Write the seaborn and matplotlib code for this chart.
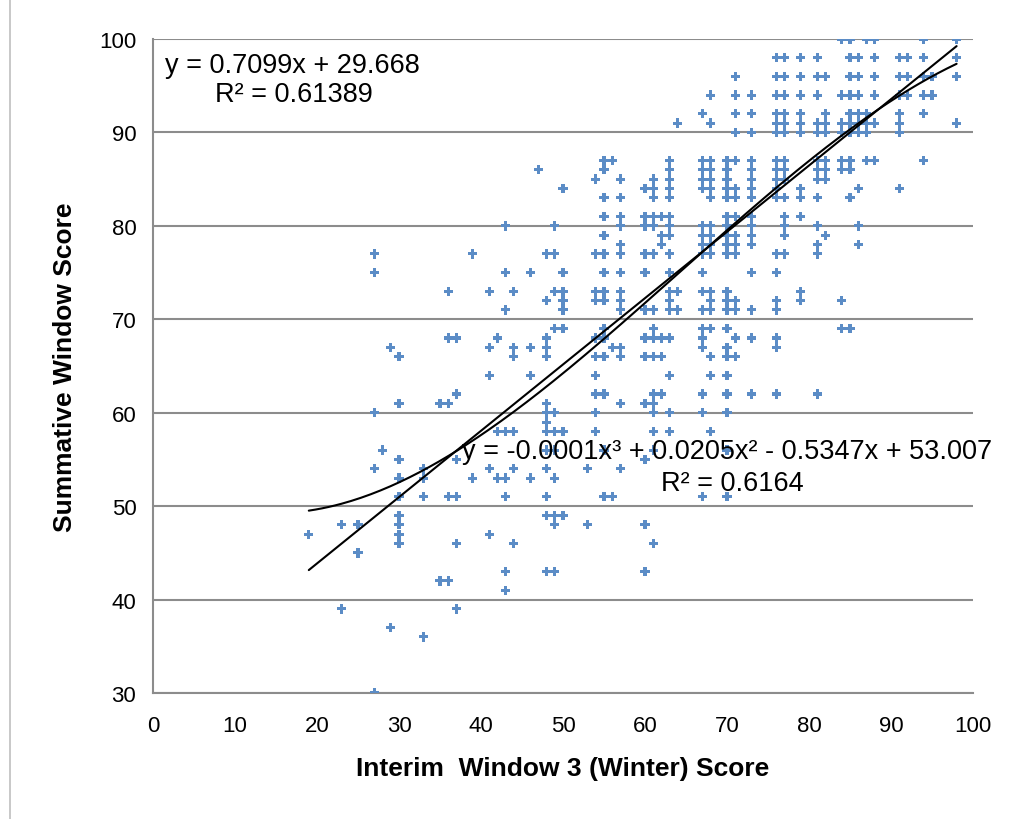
import numpy as np
import pandas as pd
import matplotlib
matplotlib.use("Agg")
import matplotlib.pyplot as plt
import seaborn as sns

# Interim window 3 score (x) and the summative scores observed at that x
interim_x = [19, 23, 25, 27, 28, 29, 30, 33, 35, 36, 37, 39, 41, 42, 43, 44, 46, 47,
             48, 49, 50, 53, 54, 55, 56, 57, 60, 61, 62, 63, 64, 67, 68, 70, 71, 73,
             76, 77, 79, 81, 82, 84, 85, 86, 87, 88, 91, 92, 94, 95, 98]
summative_y = [
    [47], [48, 39], [48, 45], [77, 75, 60, 54, 30], [56], [67, 37],
    [66, 61, 55, 53, 51, 49, 48, 47, 46], [54, 53, 51, 36], [61, 42],
    [73, 68, 61, 51, 42], [68, 62, 55, 51, 46, 39], [77, 53],
    [73, 67, 64, 54, 47], [68, 58, 53], [80, 75, 71, 58, 53, 51, 43, 41],
    [73, 67, 66, 58, 54, 46], [75, 67, 64, 53], [86],
    [77, 72, 68, 67, 66, 61, 60, 59, 58, 56, 54, 51, 49, 43],
    [80, 77, 73, 69, 60, 58, 56, 53, 49, 48, 43],
    [84, 75, 73, 72, 71, 69, 58, 49], [54, 48],
    [85, 77, 73, 72, 68, 66, 64, 62, 60, 58],
    [87, 86, 83, 81, 79, 77, 75, 73, 72, 69, 68, 66, 62, 56, 51],
    [87, 67, 51],
    [85, 83, 81, 80, 78, 77, 75, 73, 72, 71, 67, 66, 61, 54],
    [84, 81, 80, 77, 75, 71, 68, 66, 61, 55, 48, 43],
    [85, 84, 83, 81, 80, 77, 71, 69, 68, 66, 62, 61, 60, 58, 56, 46],
    [81, 79, 78, 68, 66, 62],
    [87, 86, 85, 84, 83, 81, 80, 79, 77, 75, 73, 72, 71, 68, 64, 60, 58],
    [91, 73, 71],
    [92, 87, 86, 85, 84, 80, 79, 78, 77, 75, 73, 71, 69, 68, 67, 62, 60, 51],
    [94, 91, 87, 86, 85, 84, 83, 80, 79, 78, 77, 73, 72, 71, 69, 66, 64, 58],
    [87, 86, 85, 84, 83, 81, 80, 79, 78, 77, 73, 72, 71, 69, 67, 66, 64, 62, 60, 56, 51],
    [96, 94, 92, 90, 87, 84, 83, 81, 79, 78, 77, 72, 71, 68, 66],
    [94, 92, 90, 87, 86, 85, 84, 83, 81, 80, 79, 78, 75, 71, 68, 62],
    [98, 96, 94, 92, 91, 90, 87, 86, 85, 84, 83, 77, 75, 72, 71, 68, 67, 62],
    [98, 96, 94, 92, 91, 90, 87, 86, 85, 83, 81, 80, 79, 77],
    [98, 96, 94, 92, 91, 90, 84, 83, 81, 73, 72],
    [98, 96, 94, 91, 90, 87, 86, 85, 83, 80, 78, 77, 62],
    [96, 92, 91, 90, 87, 86, 85, 79],
    [100, 94, 91, 90, 87, 86, 72, 69],
    [100, 98, 96, 94, 92, 91, 90, 87, 86, 83, 69],
    [98, 96, 94, 92, 91, 90, 84, 80, 78],
    [100, 92, 91, 90, 87],
    [100, 98, 96, 94, 91, 87],
    [98, 96, 94, 92, 91, 90, 84],
    [98, 96, 94],
    [100, 98, 96, 94, 92, 87],
    [96, 94],
    [100, 98, 96, 91],
]

# trendline coefficients (highest power first)
linear_coef = [0.7099, 29.668]
poly_coef = [-0.0001064, 0.0205, -0.5347, 53.007]
linear_label = "y = 0.7099x + 29.668"
linear_r2 = "R² = 0.61389"
poly_label = "y = -0.0001x³ + 0.0205x² - 0.5347x + 53.007"
poly_r2 = "R² = 0.6164"

rows = [(x, y) for x, ys in zip(interim_x, summative_y) for y in ys]
df = pd.DataFrame(rows, columns=["interim", "summative"])

sns.set_style("white")
plt.rcParams["font.family"] = ["Liberation Sans", "DejaVu Sans"]
plt.rcParams["text.color"] = "black"

fig = plt.figure(figsize=(10.16, 8.2), dpi=100)
ax = fig.add_axes([153 / 1016, 1 - 694 / 820, 820 / 1016, 654 / 820])

sns.scatterplot(data=df, x="interim", y="summative", ax=ax, marker="P",
                s=45, color="#5B8CC6", edgecolor="none", linewidth=0, zorder=3)

xs = np.linspace(df["interim"].min(), df["interim"].max(), 200)
ax.plot(xs, np.polyval(linear_coef, xs), color="black", lw=1.5, zorder=4)
ax.plot(xs, np.polyval(poly_coef, xs), color="black", lw=1.5, zorder=4)

ax.set_xlim(0, 100)
ax.set_ylim(30, 100)
ax.set_xticks(range(0, 101, 10))
ax.set_yticks(range(30, 101, 10))
ax.yaxis.grid(True, color="#8c8c8c", lw=1.5)
ax.set_axisbelow(True)
for side in ["top", "right"]:
    ax.spines[side].set_visible(False)
for side in ["left", "bottom"]:
    ax.spines[side].set_color("#8c8c8c")
    ax.spines[side].set_linewidth(1.5)
ax.tick_params(axis="both", direction="out", length=6, width=1.3, color="#8c8c8c",
               labelsize=16, pad=10, labelcolor="black")
ax.tick_params(axis="y", length=0, pad=12)

ax.set_xlabel("Interim  Window 3 (Winter) Score", fontsize=19, fontweight="bold",
              labelpad=14, color="black")
ax.set_ylabel("Summative Window Score", fontsize=19, fontweight="bold",
              labelpad=16, color="black")

ax.text(17.0, 97.2, linear_label, fontsize=19.5, ha="center", va="center")
ax.text(17.2, 94.1, linear_r2, fontsize=19.5, ha="center", va="center")
ax.text(70.0, 55.9, poly_label, fontsize=19.5, ha="center", va="center", zorder=5)
ax.text(70.7, 52.5, poly_r2, fontsize=19.5, ha="center", va="center", zorder=5)

fig.add_artist(plt.Line2D([10 / 1016, 10 / 1016], [0, 1], color="#bfbfbf", lw=1.2))

fig.savefig("out.png", dpi=100)
